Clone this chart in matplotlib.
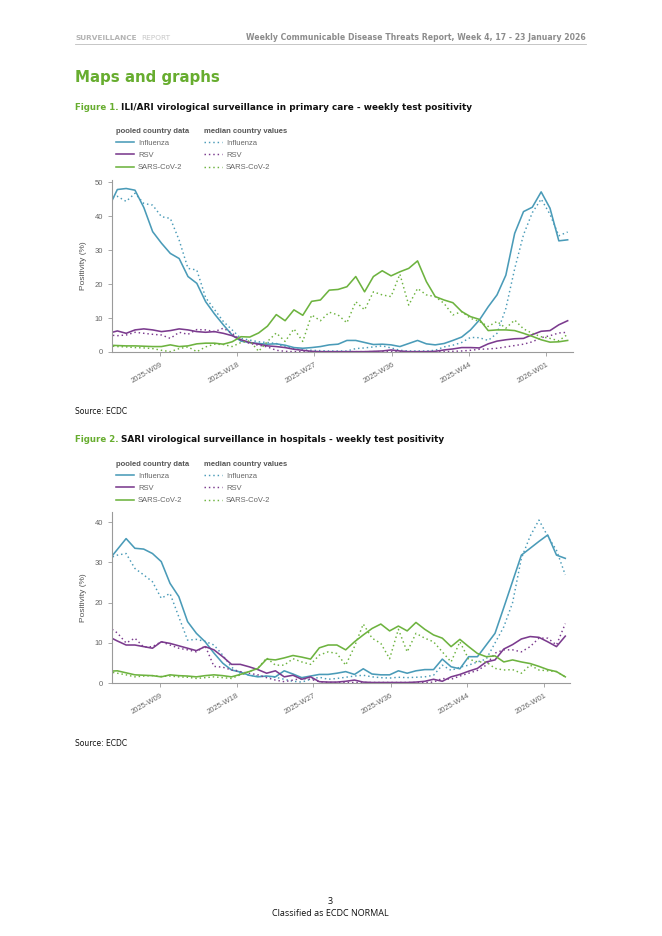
import numpy as np
import matplotlib
matplotlib.use("Agg")
import matplotlib.pyplot as plt

# weekly data points (week ending Sunday), 2025-W03 .. 2026-W03
weeks = np.arange('2025-01-19', '2026-01-19', 7, dtype='datetime64[D]')
tick_dates = np.array(['2025-03-01', '2025-05-01', '2025-07-01',
                       '2025-09-01', '2025-11-01', '2026-01-01'], dtype='datetime64[D]')

# Figure 1 - primary care
flu_pc = [42.4, 47.8, 48.1, 47.6, 42.5, 35.4, 32.0, 29.0, 27.5, 22.2, 20.2, 14.8, 11.2, 8.0,
          5.0, 3.2, 2.8, 2.5, 2.3, 2.4, 2.0, 1.3, 1.1, 1.3, 1.6, 2.1, 2.3, 3.4, 3.4, 2.8,
          2.2, 2.3, 2.1, 1.6, 2.5, 3.4, 2.4, 2.1, 2.5, 3.4, 4.4, 6.5, 9.4, 13.3, 16.8, 22.6,
          34.9, 41.3, 42.6, 47.1, 42.3, 32.7, 33.0]
flu_pc_med = [45.0, 45.8, 44.3, 46.7, 43.7, 43.2, 39.8, 39.3, 32.9, 24.6, 24.1, 16.0, 12.5, 9.0,
              6.5, 4.0, 3.5, 3.0, 2.8, 2.5, 1.5, 1.0, 0.6, 0.5, 0.4, 0.3, 0.3, 0.3, 1.0, 1.2,
              1.5, 1.8, 1.2, 0.5, 0.3, 0.3, 0.3, 0.5, 1.5, 2.0, 2.8, 4.3, 4.2, 3.4, 5.5, 12.8,
              24.5, 34.5, 41.0, 45.0, 40.5, 34.2, 35.3]
rsv_pc = [5.5, 6.2, 5.5, 6.5, 6.8, 6.5, 6.0, 6.3, 6.8, 6.5, 6.0, 5.8, 6.0, 5.5,
          4.8, 3.6, 2.8, 2.3, 1.8, 1.6, 1.3, 0.8, 0.5, 0.2, 0.1, 0.1, 0.1, 0.1, 0.1, 0.1,
          0.2, 0.3, 0.6, 0.3, 0.1, 0.1, 0.1, 0.2, 0.6, 0.9, 1.3, 1.3, 1.2, 2.4, 3.2, 3.6,
          3.9, 4.0, 5.1, 6.1, 6.3, 8.0, 9.2]
rsv_pc_med = [5.0, 4.8, 5.0, 5.8, 5.5, 5.2, 5.0, 4.0, 5.8, 5.2, 6.6, 6.5, 6.0, 7.0,
              5.5, 3.5, 2.5, 2.0, 1.5, 0.5, 0.2, 0.1, 0.1, 0.1, 0.1, 0.1, 0.1, 0.1, 0.1, 0.1,
              0.1, 0.1, 0.1, 0.1, 0.1, 0.1, 0.1, 0.1, 0.1, 0.2, 0.3, 0.5, 0.8, 0.9, 1.1, 1.5,
              1.9, 2.3, 3.0, 4.2, 4.8, 5.6, 5.8]
sars_pc = [2.0, 1.9, 1.8, 1.8, 1.7, 1.6, 1.6, 2.1, 1.6, 1.8, 2.4, 2.6, 2.6, 2.3,
           3.0, 4.5, 4.4, 5.6, 7.6, 11.0, 9.2, 12.4, 10.8, 14.9, 15.3, 18.2, 18.4, 19.2, 22.2, 17.7,
           22.2, 23.9, 22.4, 23.6, 24.6, 26.8, 20.7, 16.3, 15.3, 14.5, 11.9, 10.4, 9.6, 6.3, 6.5, 6.5,
           6.3, 5.5, 4.6, 3.6, 2.9, 3.0, 3.4]
sars_pc_med = [1.8, 1.6, 1.5, 1.3, 1.2, 1.0, 0.5, 0.1, 1.0, 1.5, 0.1, 1.5, 2.3, 2.2,
               1.6, 2.8, 3.3, 0.2, 3.1, 5.6, 3.1, 6.8, 3.1, 10.9, 9.2, 11.7, 10.9, 8.6, 14.8, 12.4,
               17.7, 16.8, 16.3, 22.9, 13.8, 18.7, 16.8, 16.3, 14.3, 10.9, 11.9, 9.9, 9.0, 7.5, 9.0, 7.0,
               9.4, 6.8, 5.5, 4.5, 4.0, 3.3, 5.2]

# Figure 2 - hospitals
flu_h = [30.5, 33.2, 35.9, 33.5, 33.3, 32.2, 30.2, 24.8, 21.5, 15.3, 12.4, 10.3, 7.5, 5.0,
         3.3, 2.8, 2.0, 1.6, 1.8, 1.6, 3.1, 2.3, 1.4, 1.8, 2.2, 2.2, 2.5, 2.9, 2.2, 3.6,
         2.3, 2.1, 2.1, 3.1, 2.5, 3.1, 3.4, 3.4, 6.0, 4.1, 3.6, 6.6, 6.6, 9.5, 12.4, 18.8,
         25.3, 31.8, 33.5, 35.2, 36.8, 31.8, 31.0]
flu_h_med = [31.0, 31.8, 32.2, 28.5, 26.9, 25.2, 21.1, 22.3, 16.5, 10.7, 10.9, 10.4, 9.5, 7.0,
             4.0, 2.5, 2.0, 1.8, 1.7, 1.5, 1.0, 0.5, 0.3, 1.0, 1.5, 1.0, 1.2, 1.5, 1.8, 2.0,
             1.6, 1.4, 1.3, 1.5, 1.4, 1.5, 1.6, 2.0, 4.5, 3.2, 4.0, 4.5, 5.3, 6.0, 10.0, 14.0,
             20.0, 31.0, 36.5, 40.5, 36.5, 33.0, 26.9]
rsv_h = [11.6, 10.5, 9.5, 9.5, 9.1, 8.7, 10.3, 9.9, 9.3, 8.7, 8.1, 9.1, 8.3, 6.6,
         4.7, 4.7, 4.1, 3.4, 2.5, 3.1, 1.6, 2.0, 1.0, 1.6, 0.4, 0.3, 0.3, 0.5, 0.8, 0.3,
         0.2, 0.2, 0.2, 0.2, 0.2, 0.3, 0.5, 1.0, 0.5, 1.6, 2.2, 3.0, 3.7, 5.3, 5.8, 8.5,
         9.6, 11.0, 11.6, 11.4, 10.3, 9.1, 11.7]
rsv_h_med = [14.0, 12.5, 10.0, 11.2, 9.0, 9.1, 10.3, 9.5, 8.7, 8.3, 7.8, 9.3, 4.2, 4.0,
             3.3, 2.9, 2.5, 2.1, 1.4, 0.8, 0.4, 0.8, 1.2, 1.0, 0.4, 0.2, 0.2, 0.2, 0.2, 0.2,
             0.2, 0.2, 0.2, 0.2, 0.2, 0.2, 0.2, 0.3, 1.2, 1.0, 1.8, 2.5, 3.2, 4.5, 7.5, 8.3,
             8.3, 7.8, 9.1, 11.2, 11.2, 9.5, 14.8]
sars_h = [3.0, 3.1, 2.6, 2.1, 2.0, 1.9, 1.6, 2.1, 1.9, 1.8, 1.6, 1.9, 2.1, 1.9,
          1.6, 2.2, 2.9, 3.7, 6.0, 5.8, 6.3, 6.9, 6.5, 6.0, 8.8, 9.5, 9.5, 8.3, 10.3, 12.0,
          13.6, 14.7, 13.0, 14.2, 13.0, 15.1, 13.4, 12.0, 11.2, 9.1, 10.9, 9.1, 7.4, 6.6, 6.8, 5.3,
          5.8, 5.3, 4.9, 4.2, 3.4, 2.9, 1.6]
sars_h_med = [2.9, 2.5, 2.1, 1.6, 1.8, 1.9, 1.7, 1.8, 1.6, 1.5, 1.2, 1.4, 1.6, 1.4,
              1.2, 2.1, 2.9, 3.7, 6.3, 4.5, 4.5, 6.1, 5.3, 4.7, 7.0, 7.8, 7.4, 4.5, 9.1, 14.7,
              11.2, 9.9, 6.1, 13.4, 7.8, 12.4, 11.2, 10.3, 7.8, 5.3, 10.3, 6.0, 5.3, 5.3, 3.7, 3.3,
              3.4, 2.5, 4.5, 3.3, 3.1, 2.9, 1.6]

BLUE = '#4a9bb8'
PURPLE = '#7b3b8e'
GREEN = '#6db33f'
HEAD_GREEN = '#67ad2f'
CHART_FONT = 'Liberation Sans'
DOC_FONT = 'DejaVu Sans'

W, H = 662, 936
fig = plt.figure(figsize=(W / 100, H / 100), dpi=100)


def fx(px):
    return px / W


def fy(py):
    return 1 - py / H


tick_labels = []
for d in tick_dates:
    iso = d.astype(object).isocalendar()
    tick_labels.append('{}-W{:02d}'.format(iso[0], iso[1]))


def draw_chart(rect, series, ytop, yticks, legend_top):
    ax = fig.add_axes(rect)
    solid = []
    dotted = []
    for (pooled, median), col, name in zip(series, [BLUE, PURPLE, GREEN],
                                           ['Influenza', 'RSV', 'SARS-CoV-2']):
        l1, = ax.plot(weeks, pooled, color=col, lw=1.15, label=name)
        l2, = ax.plot(weeks, median, color=col, lw=1.05, ls=(0, (1, 2)), label=name)
        solid.append(l1)
        dotted.append(l2)
    ax.set_xlim(np.datetime64('2025-01-22'), np.datetime64('2026-01-22'))
    ax.set_ylim(0, ytop)
    ax.set_yticks(yticks)
    ax.set_xticks(tick_dates)
    ax.set_xticklabels(tick_labels, rotation=30, ha='right', rotation_mode='anchor')
    for s in ['top', 'right']:
        ax.spines[s].set_visible(False)
    for s in ['left', 'bottom']:
        ax.spines[s].set_color('#9a9a9a')
        ax.spines[s].set_linewidth(0.8)
    ax.tick_params(colors='#9a9a9a', labelcolor='#666666', labelsize=5.5,
                   length=3, width=0.6)
    for t in ax.get_xticklabels() + ax.get_yticklabels():
        t.set_family(CHART_FONT)
    ax.set_ylabel('Positivity (%)', fontsize=6, color='#555555',
                  family=CHART_FONT, labelpad=6)
    for handles, title, x0 in [(solid, 'pooled country data', 116),
                               (dotted, 'median country values', 204)]:
        leg = fig.legend(handles=handles, loc='upper left',
                         bbox_to_anchor=(fx(x0), fy(legend_top)),
                         frameon=False, title=title, alignment='left',
                         prop={'family': CHART_FONT, 'size': 5.5},
                         title_fontproperties={'family': CHART_FONT, 'size': 5.5,
                                               'weight': 'bold'},
                         handlelength=2.4, handletextpad=0.5, labelspacing=0.62,
                         borderpad=0, borderaxespad=0)
        leg.get_title().set_color('#555555')
        for t in leg.get_texts():
            t.set_color('#666666')
    return ax


draw_chart([fx(112.3), fy(352), fx(460.4), 172 / H],
           [(flu_pc, flu_pc_med), (rsv_pc, rsv_pc_med), (sars_pc, sars_pc_med)],
           50.6, [0, 10, 20, 30, 40, 50], 128)
draw_chart([fx(112.3), fy(683.3), fx(458), 171.3 / H],
           [(flu_h, flu_h_med), (rsv_h, rsv_h_med), (sars_h, sars_h_med)],
           42.5, [0, 10, 20, 30, 40], 461)

# page furniture
fig.text(fx(75), fy(38), 'SURVEILLANCE', fontsize=5.3, weight='bold', color='#b4b4b4',
         family=DOC_FONT, va='center')
fig.text(fx(141), fy(38), 'REPORT', fontsize=5.3, color='#c8c8c8',
         family=DOC_FONT, va='center')
fig.text(fx(586), fy(38), 'Weekly Communicable Disease Threats Report, Week 4, 17 - 23 January 2026',
         fontsize=5.6, weight='bold', color='#8c8c8c', family=DOC_FONT, va='center', ha='right')
fig.add_artist(plt.Line2D([fx(75), fx(586)], [fy(44), fy(44)], color='#bdbdbd', lw=0.6))

fig.text(fx(75), fy(77.5), 'Maps and graphs', fontsize=10.8, weight='bold', color=HEAD_GREEN,
         family=DOC_FONT, va='center')

for y, label, title in [(107, 'Figure 1.', 'ILI/ARI virological surveillance in primary care - weekly test positivity'),
                        (439, 'Figure 2.', 'SARI virological surveillance in hospitals - weekly test positivity')]:
    fig.text(fx(75), fy(y), label, fontsize=6.2, weight='bold', color=HEAD_GREEN,
             family=DOC_FONT, va='center')
    fig.text(fx(121), fy(y), title, fontsize=6.4, weight='bold', color='#111111',
             family=DOC_FONT, va='center')

for y in [412, 743]:
    fig.text(fx(75), fy(y), 'Source: ECDC', fontsize=5.5, color='#111111',
             family=DOC_FONT, va='center')

fig.text(fx(330), fy(902), '3', fontsize=6.5, color='#111111', family='Open Sans',
         ha='center', va='center')
fig.text(fx(330), fy(913), 'Classified as ECDC NORMAL', fontsize=6.5, color='#111111',
         family='Open Sans', ha='center', va='center')

fig.savefig('out.png', dpi=100)
